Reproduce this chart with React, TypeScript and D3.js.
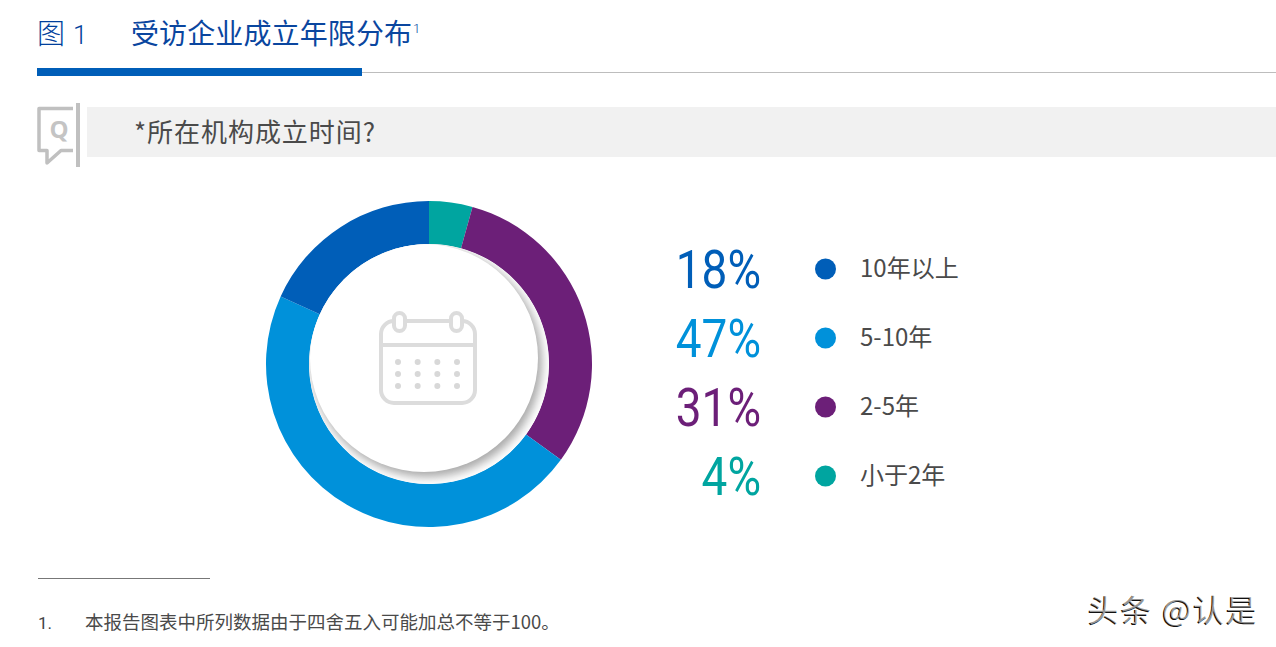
import * as d3 from "d3";

const categories = ["小于2年", "2-5年", "5-10年", "10年以上"];
const values = [4, 31, 47, 18];
const arcShares = [4.3, 30.7, 46.8, 18.2];
const colors = ["#00a5a0", "#6c1f78", "#0091da", "#005eb8"];
// legend runs the other way round from the ring
const legendOrder = [3, 2, 1, 0];
const legendLabels = ["10年以上", "5-10年", "2-5年", "小于2年"];
const dotRows = [0, 1, 2];
const dotCols = [0, 1, 2, 3];

const cjk = "'Noto Sans CJK SC', 'Noto Sans', sans-serif";

export default function App() {
  const pie = d3.pie<number>().sort(null).value((d) => d);
  const arc = d3.arc<d3.PieArcDatum<number>>().innerRadius(120).outerRadius(163);
  const slices = pie(arcShares);

  const rowY = d3.scalePoint<number>().domain(legendOrder).range([269, 476]);
  const dotX = d3.scaleLinear().domain([0, 3]).range([398, 457]);
  const dotY = d3.scaleLinear().domain([0, 2]).range([362, 386]);

  return (
    <svg
      width={1276}
      height={647}
      viewBox="0 0 1276 647"
      style={{ position: "absolute", left: 0, top: 0, background: "#fff" }}
    >
      <defs>
        <filter id="soft" x="-20%" y="-20%" width="140%" height="140%">
          <feGaussianBlur stdDeviation="5" />
        </filter>
        <clipPath id="ringHole">
          <circle cx={429} cy={364} r={120} />
        </clipPath>
      </defs>

      {/* header */}
      <text x={37} y={44} fontFamily={cjk} fontSize={28} fontWeight={300} fill="#003f9c">图</text>
      <text x={73} y={44} fontFamily="Roboto, sans-serif" fontSize={26} fontWeight={300} fill="#003f9c">1</text>
      <text x={131} y={44} fontFamily={cjk} fontSize={28} fill="#0a469f" textLength={281} lengthAdjust="spacing">受访企业成立年限分布</text>
      <text x={413} y={33} fontFamily="Roboto, sans-serif" fontSize={13} fontWeight={300} fill="#003f9c">1</text>
      <line x1={362} x2={1276} y1={72.5} y2={72.5} stroke="#bdbdbd" strokeWidth={1} />
      <rect x={37} y={68} width={325} height={8} fill="#005eb8" />

      {/* question bar */}
      <rect x={87} y={107} width={1189} height={50} fill="#f1f1f1" />
      <text x={134} y={142} fontFamily={cjk} fontSize={26} fill="#4a4a4a" textLength={241} lengthAdjust="spacing">*所在机构成立时间?</text>
      <rect x={76} y={103} width={4} height={64} fill="#c0c0c0" />
      <path
        d="M73 108.5 H39 V150.5 H47 V163 L61 150.5 H73"
        fill="none"
        stroke="#c0c0c0"
        strokeWidth={3.5}
        strokeLinejoin="round"
      />
      <text x={59} y={138} textAnchor="middle" fontFamily="'Open Sans', sans-serif" fontWeight={700} fontSize={24} fill="#c4c4c4">Q</text>

      {/* donut */}
      <g transform="translate(429,364)">
        {slices.map((s, i) => (
          <path key={categories[i]} d={arc(s) ?? ""} fill={colors[i]} />
        ))}
      </g>
      <g clipPath="url(#ringHole)">
        <circle cx={429} cy={364} r={120} fill="#fff" />
        <circle cx={427} cy={362} r={115} fill="#a8a8a8" filter="url(#soft)" />
        <circle cx={424} cy={358} r={114} fill="#fff" />
      </g>

      {/* calendar icon */}
      <g fill="none" stroke="#dcdcdc" strokeWidth={4}>
        <rect x={381} y={321} width={94} height={82} rx={13} />
        <line x1={381} x2={475} y1={345} y2={345} />
        <rect x={394} y={313} width={11} height={18} rx={5.5} fill="#fff" />
        <rect x={451} y={313} width={11} height={18} rx={5.5} fill="#fff" />
      </g>
      {dotRows.map((r) =>
        dotCols.map((c) => (
          <circle key={`${r}-${c}`} cx={dotX(c)} cy={dotY(r)} r={3} fill="#d8d8d8" />
        ))
      )}

      {/* legend */}
      {legendOrder.map((idx, i) => (
        <g key={idx}>
          <text
            transform={`translate(761,${(rowY(idx) ?? 0) + 19}) scale(0.85,1)`}
            textAnchor="end"
            fontFamily="Roboto, sans-serif"
            fontWeight={400}
            fontSize={54}
            fill={colors[idx]}
          >
            {values[idx]}%
          </text>
          <circle cx={825.5} cy={rowY(idx)} r={10.5} fill={colors[idx]} />
          <text
            x={860}
            y={(rowY(idx) ?? 0) + 8}
            fontFamily={cjk}
            fontSize={24}
            fill="#4a4a4a"
          >
            {legendLabels[i]}
          </text>
        </g>
      ))}

      {/* footnote */}
      <line x1={38} x2={210} y1={578.5} y2={578.5} stroke="#777" strokeWidth={1} />
      <text x={38} y={629} fontFamily="Roboto, sans-serif" fontWeight={400} fontSize={17} fill="#444">1.</text>
      <text x={85} y={629} fontFamily={cjk} fontSize={18.5} fill="#4a4a4a">本报告图表中所列数据由于四舍五入可能加总不等于100。</text>

      {/* watermark */}
      <text x={1087} y={622} fontFamily={cjk} fontSize={31} fill="#111" textLength={169}>头条 @认是</text>
      <text x={1088} y={621} fontFamily={cjk} fontSize={31} fill="#fff" opacity={0.55} textLength={169}>头条 @认是</text>
    </svg>
  );
}
